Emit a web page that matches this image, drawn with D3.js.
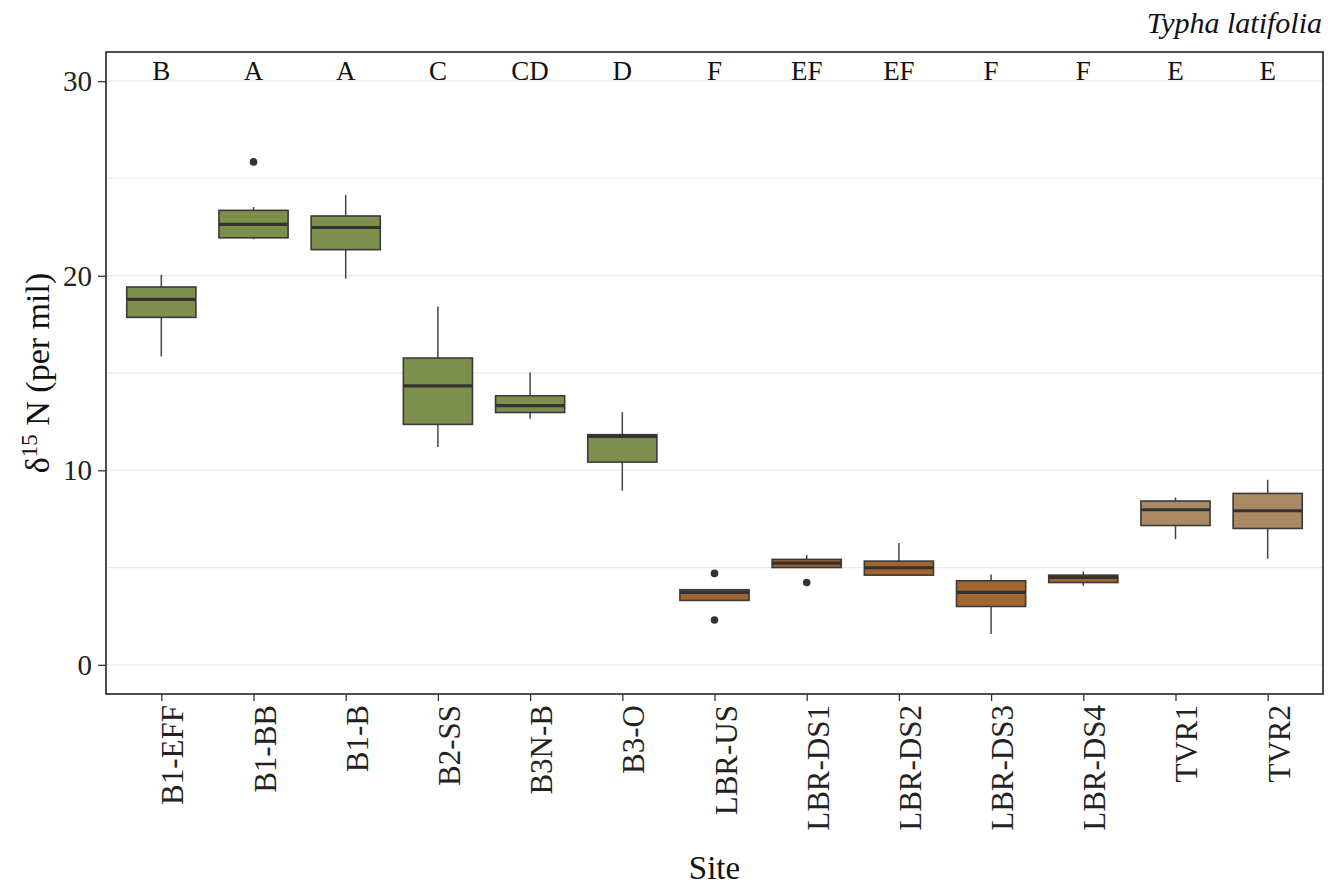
<!DOCTYPE html>
<html><head><meta charset="utf-8">
<script src="https://cdn.jsdelivr.net/npm/d3@7"></script>
<style>
html,body{margin:0;padding:0;background:#fff;}
svg{display:block;font-family:"Liberation Serif","Times New Roman",serif;}
</style></head>
<body><svg id="chart" width="1328" height="888"></svg>
<script>
const sites = ["B1-EFF","B1-BB","B1-B","B2-SS","B3N-B","B3-O","LBR-US","LBR-DS1","LBR-DS2","LBR-DS3","LBR-DS4","TVR1","TVR2"];
const letters = ["B","A","A","C","CD","D","F","EF","EF","F","F","E","E"];
const groups = ["B","B","B","B","B","B","L","L","L","L","L","T","T"];
const whiskerLow  = [15.85,21.88,19.85,11.19,12.65, 8.95,3.31,5.00,4.61,1.59,4.06,6.46,5.45];
const q1          = [17.86,21.95,21.34,12.36,12.97,10.42,3.31,5.00,4.61,3.00,4.23,7.16,7.01];
const median      = [18.78,22.64,22.48,14.34,13.32,11.74,3.72,5.23,4.99,3.72,4.49,7.97,7.92];
const q3          = [19.42,23.36,23.07,15.77,13.83,11.83,3.86,5.42,5.33,4.32,4.61,8.42,8.81];
const whiskerHigh = [20.05,23.53,24.16,18.42,15.03,12.99,3.86,5.64,6.26,4.64,4.80,8.60,9.51];
const outlierSites  = ["B1-BB","LBR-US","LBR-US","LBR-DS1"];
const outlierValues = [25.85,4.70,2.30,4.23];
const yTicks = [0,10,20,30];
const yMinor = [5,15,25];
const groupColors = {B:"#7d8f4c", L:"#a1652e", T:"#a98a63"};

const svg = d3.select("#chart");
const m = {left:106, top:52, right:1323, bottom:694};
const x = d3.scalePoint().domain(sites).range([m.left, m.right]).padding(0.6);
const y = d3.scaleLinear().domain([-1.5, 31.5]).range([m.bottom, m.top]);
const bw = x.step()*0.75;

// gridlines
svg.append("g").selectAll("line").data(yTicks.concat(yMinor)).join("line")
  .attr("x1", m.left).attr("x2", m.right)
  .attr("y1", d=>y(d)).attr("y2", d=>y(d))
  .attr("stroke","#ebebeb").attr("stroke-width",1.3);

const data = sites.map((s,i)=>({s, lo:whiskerLow[i], q1:q1[i], med:median[i], q3:q3[i], hi:whiskerHigh[i], g:groups[i]}));

const gb = svg.append("g");
// whiskers
gb.selectAll("line.wu").data(data).join("line")
  .attr("x1", d=>x(d.s)).attr("x2", d=>x(d.s))
  .attr("y1", d=>y(d.q3)).attr("y2", d=>y(d.hi))
  .attr("stroke","#444").attr("stroke-width",1.5);
gb.selectAll("line.wl").data(data).join("line")
  .attr("x1", d=>x(d.s)).attr("x2", d=>x(d.s))
  .attr("y1", d=>y(d.q1)).attr("y2", d=>y(d.lo))
  .attr("stroke","#444").attr("stroke-width",1.5);
// boxes
gb.selectAll("rect").data(data).join("rect")
  .attr("x", d=>x(d.s)-bw/2).attr("width", bw)
  .attr("y", d=>y(d.q3)).attr("height", d=>y(d.q1)-y(d.q3))
  .attr("fill", d=>groupColors[d.g]).attr("stroke","#3a3a3a").attr("stroke-width",1.6);
// medians
gb.selectAll("line.med").data(data).join("line")
  .attr("x1", d=>x(d.s)-bw/2).attr("x2", d=>x(d.s)+bw/2)
  .attr("y1", d=>y(d.med)).attr("y2", d=>y(d.med))
  .attr("stroke","#333").attr("stroke-width",3.2);
// outliers
gb.selectAll("circle").data(outlierSites.map((s,i)=>({s,v:outlierValues[i]}))).join("circle")
  .attr("cx", d=>x(d.s)).attr("cy", d=>y(d.v)).attr("r",3.8).attr("fill","#333");

// letters
svg.append("g").selectAll("text").data(sites).join("text")
  .attr("x", d=>x(d)).attr("y", y(30)-1)
  .attr("text-anchor","middle").attr("font-size",27).attr("fill","#111")
  .text((d,i)=>letters[i]);

// panel border
svg.append("rect").attr("x",m.left).attr("y",m.top)
  .attr("width",m.right-m.left).attr("height",m.bottom-m.top)
  .attr("fill","none").attr("stroke","#222").attr("stroke-width",1.6);

// y axis
const ya = svg.append("g").attr("transform",`translate(${m.left},0)`)
  .call(d3.axisLeft(y).tickValues(yTicks).tickSize(8).tickPadding(6));
ya.select(".domain").remove();
ya.selectAll("line").attr("stroke","#333").attr("stroke-width",1.3);
ya.selectAll("text").attr("font-size",29).attr("fill","#222").attr("font-family","Liberation Serif");

// x axis
const xa = svg.append("g").attr("transform",`translate(0,${m.bottom})`)
  .call(d3.axisBottom(x).tickSize(7).tickFormat(""));
xa.select(".domain").remove();
xa.selectAll("line").attr("stroke","#333").attr("stroke-width",1.3);
svg.append("g").selectAll("text").data(sites).join("text")
  .attr("transform", d=>`translate(${x(d)+22},705) rotate(-90)`)
  .attr("text-anchor","end").attr("font-size",31).attr("fill","#222")
  .text(d=>d);

// axis titles
svg.append("text").attr("x",(m.left+m.right)/2).attr("y",879)
  .attr("text-anchor","middle").attr("font-size",33).attr("fill","#111").text("Site");
const yt = svg.append("text").attr("transform",`translate(49,${(m.top+m.bottom)/2}) rotate(-90)`)
  .attr("text-anchor","middle").attr("font-size",34).attr("fill","#111");
yt.append("tspan").text("δ");
yt.append("tspan").attr("font-size",23).attr("dy",-12).text("15");
yt.append("tspan").attr("dy",12).text(" N (per mil)");

// title
svg.append("text").attr("x",1322).attr("y",33).attr("text-anchor","end")
  .attr("font-size",30).attr("font-style","italic").attr("fill","#111").text("Typha latifolia");
</script></body></html>
